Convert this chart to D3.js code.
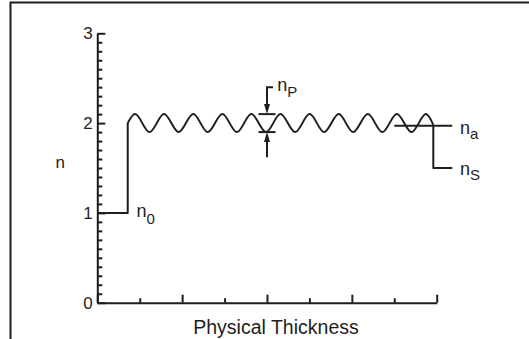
<!DOCTYPE html>
<html>
<head>
<meta charset="utf-8">
<script src="https://cdn.jsdelivr.net/npm/d3@7"></script>
<style>
  html, body { margin: 0; padding: 0; background: #fff; }
  svg { display: block; }
  text { font-family: "Liberation Sans", Arial, sans-serif; fill: #1e1e1e; }
</style>
</head>
<body>
<svg id="chart" width="529" height="339"></svg>
<script>
// ---- data ----
const yMajorTicks = [0, 1, 2, 3];
const yMinorTicks = [0.1,0.2,0.3,0.4,0.5,0.6,0.7,0.8,0.9,1.1,1.2,1.3,1.4,1.5,1.6,1.7,1.8,1.9,2.1,2.2,2.3,2.4,2.5,2.6,2.7,2.8,2.9];
const xMajorTicks = [0, 2, 4, 6, 8];
const xMinorTicks = [1, 3, 5, 7];
const yTickLabels = ["0", "1", "2", "3"];

// incident medium n0 step
const stepX = [0, 0.717, 0.717];
const stepY = [1.0, 1.0, 2.0];

// rugate wave: start, alternating peaks / troughs, end
const waveX = [0.717, 0.889, 1.231, 1.573, 1.917, 2.262, 2.604, 2.948, 3.290, 3.632, 3.976,
               4.318, 4.663, 5.005, 5.347, 5.691, 6.031, 6.377, 6.719, 7.061, 7.406, 7.748, 7.920];
const waveY = [2.0, 2.1, 1.9, 2.1, 1.9, 2.1, 1.9, 2.1, 1.9, 2.1, 1.9,
               2.1, 1.9, 2.1, 1.9, 2.1, 1.9, 2.1, 1.9, 2.1, 1.9, 2.1, 1.98];

// substrate ns step
const subX = [7.920, 7.920, 8.366];
const subY = [1.98, 1.5, 1.5];

// average index na line
const naX = [7.0, 8.366];
const naY = [1.97, 1.97];

// nP annotation
const npX = 4.0;
const npPeak = 2.1, npTrough = 1.9, npTopStart = 2.40, npBottomStart = 1.62;

// ---- drawing ----
const svg = d3.select("#chart");
const x = d3.scaleLinear().domain([0, 8]).range([97.3, 436.7]);
const y = d3.scaleLinear().domain([0, 3]).range([302.7, 33.3]);
const ink = "#1e1e1e";

// frame (left and top only visible)
svg.append("path")
  .attr("d", "M10.5,339 V2.5 H529")
  .attr("fill", "none").attr("stroke", ink).attr("stroke-width", 2);

// y axis
svg.append("g").attr("transform", `translate(${x(0)},0)`)
  .call(d3.axisRight(y).tickValues(yMajorTicks).tickSize(8).tickSizeOuter(0).tickFormat(""));
const yMin = svg.append("g").attr("transform", `translate(${x(0)},0)`)
  .call(d3.axisRight(y).tickValues(yMinorTicks).tickSize(5).tickSizeOuter(0).tickFormat(""));
yMin.select(".domain").remove();

// y tick labels
svg.append("g").selectAll("text").data(yMajorTicks).join("text")
  .attr("x", x(0) - 4.5)
  .attr("y", d => y(d))
  .attr("dy", "0.36em")
  .attr("text-anchor", "end")
  .attr("font-size", 17)
  .style("font-size", "17px")
  .text((d, i) => yTickLabels[i]);

// x axis
svg.append("g").attr("transform", `translate(0,${y(0)})`)
  .call(d3.axisTop(x).tickValues(xMajorTicks).tickSize(8).tickSizeOuter(0).tickFormat(""));
const xMin = svg.append("g").attr("transform", `translate(0,${y(0)})`)
  .call(d3.axisTop(x).tickValues(xMinorTicks).tickSize(4.5).tickSizeOuter(0).tickFormat(""));
xMin.select(".domain").remove();

svg.selectAll(".domain, .tick line").attr("stroke", ink).attr("stroke-width", 2);

// profile
const lin = d3.line().x(d => x(d[0])).y(d => y(d[1]));
const smooth = d3.line().x(d => x(d[0])).y(d => y(d[1])).curve(d3.curveMonotoneX);
const style = sel => sel.attr("fill", "none").attr("stroke", ink).attr("stroke-width", 2).attr("stroke-linejoin", "round");

svg.append("path").datum(stepX.map((v, i) => [v, stepY[i]])).attr("d", lin).call(style);
svg.append("path").datum(waveX.map((v, i) => [v, waveY[i]])).attr("d", smooth).call(style);
svg.append("path").datum(subX.map((v, i) => [v, subY[i]])).attr("d", lin).call(style);
svg.append("path").datum(naX.map((v, i) => [v, naY[i]])).attr("d", lin).call(style);

// nP annotation
const ax = x(npX);
svg.append("path").attr("d", `M${ax + 6},${y(npTopStart)} H${ax} V${y(npPeak) - 6}`).call(style).attr("stroke-linejoin", "miter");
svg.append("path").attr("d", `M${ax},${y(npBottomStart)} V${y(npTrough) + 6}`).call(style);
svg.append("path").attr("d", `M${ax - 8.5},${y(npPeak)} H${ax + 8.5}`).call(style);
svg.append("path").attr("d", `M${ax - 8.5},${y(npTrough)} H${ax + 8.5}`).call(style);
svg.append("path").attr("d", `M${ax - 3},${y(npPeak) - 10} L${ax + 3},${y(npPeak) - 10} L${ax},${y(npPeak)} Z`).attr("fill", ink);
svg.append("path").attr("d", `M${ax - 3},${y(npTrough) + 10} L${ax + 3},${y(npTrough) + 10} L${ax},${y(npTrough)} Z`).attr("fill", ink);

// labels with subscripts
function subLabel(px, py, main, sub, dy) {
  const t = svg.append("text").attr("x", px).attr("y", py).style("font-size", "18px");
  t.append("tspan").text(main);
  t.append("tspan").attr("dy", dy).style("font-size", "15px").text(sub);
}
subLabel(136.5, 217.3, "n", "0", 6.5);
subLabel(277.3, 90.7, "n", "P", 6);
subLabel(460, 134.3, "n", "a", 4.8);
subLabel(460, 175, "n", "S", 5);

svg.append("text").attr("x", 55.5).attr("y", 168.3).style("font-size", "17px").text("n");
svg.append("text").attr("x", 276).attr("y", 334.3).attr("text-anchor", "middle")
  .style("font-size", "19.5px").text("Physical Thickness");
</script>
</body>
</html>
